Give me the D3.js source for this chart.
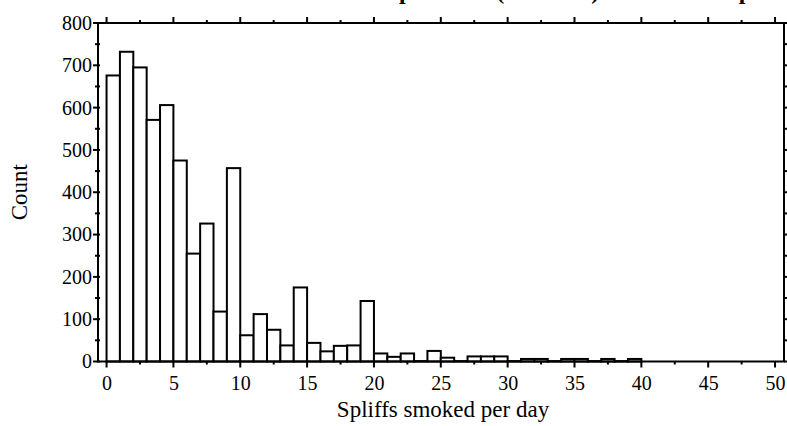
<!DOCTYPE html>
<html>
<head>
<meta charset="utf-8">
<script src="https://cdn.jsdelivr.net/npm/d3@7"></script>
<style>
  html, body { margin: 0; padding: 0; background: #fff; }
  svg { display: block; }
  text { font-family: "Liberation Serif", "Times New Roman", serif; fill: #000; }
</style>
</head>
<body>
<svg id="chart" width="787" height="426"></svg>
<script>
// ---- data ----
const binStarts = [0,1,2,3,4,5,6,7,8,9,10,11,12,13,14,15,16,17,18,19,20,21,22,23,24,25,26,27,28,29,30,31,32,33,34,35,36,37,38,39];
const counts    = [676,732,695,571,606,475,255,326,118,457,62,112,75,38,175,44,24,37,38,143,19,11,19,1,25,9,1,12,12,12,1,6,6,1,6,6,1,6,1,6];
const binWidth = 1;
const xTickValues = [0,5,10,15,20,25,30,35,40,45,50];
const yTickValues = [0,100,200,300,400,500,600,700,800];
const titleText = "Spliffs use (n = 5000) in whole sample";
const xLabel = "Spliffs smoked per day";
const yLabel = "Count";

// ---- layout ----
const svg = d3.select("#chart");
const mLeft = 98, mRight = 784, mTop = 23, mBottom = 361.5;
const x = d3.scaleLinear().domain([-0.64, 50.67]).range([mLeft, mRight]);
const y = d3.scaleLinear().domain([0, 800]).range([mBottom, mTop]);

const xMinor = d3.range(0, 50.01, 2.5);
const yMinor = d3.range(0, 800.1, 50);

// bars
svg.append("g").selectAll("rect")
  .data(binStarts.map((b, i) => ({b, c: counts[i]})))
  .join("rect")
  .attr("x", d => x(d.b))
  .attr("width", d => x(d.b + binWidth) - x(d.b))
  .attr("y", d => y(d.c))
  .attr("height", d => y(0) - y(d.c))
  .attr("fill", "#fff")
  .attr("stroke", "#000")
  .attr("stroke-width", 2);

// frame
svg.append("rect")
  .attr("x", mLeft).attr("y", mTop)
  .attr("width", mRight - mLeft).attr("height", mBottom - mTop)
  .attr("fill", "none").attr("stroke", "#000").attr("stroke-width", 2);

const ticks = svg.append("g").attr("stroke", "#000").attr("stroke-width", 2);
xMinor.forEach(v => {
  const major = v % 5 === 0;
  ticks.append("line").attr("x1", x(v)).attr("x2", x(v))
    .attr("y1", mBottom).attr("y2", mBottom + (major ? 6 : 3));
  ticks.append("line").attr("x1", x(v)).attr("x2", x(v))
    .attr("y1", mTop).attr("y2", mTop - (major ? 6 : 3));
});
yMinor.forEach(v => {
  const major = v % 100 === 0;
  ticks.append("line").attr("x1", mLeft - (major ? 5 : 3)).attr("x2", mLeft + 2)
    .attr("y1", y(v)).attr("y2", y(v));
  ticks.append("line").attr("x1", mRight).attr("x2", mRight + (major ? 5 : 3))
    .attr("y1", y(v)).attr("y2", y(v));
});

// tick labels via axes (no lines)
const xAxis = svg.append("g").attr("transform", `translate(0,${mBottom})`)
  .call(d3.axisBottom(x).tickValues(xTickValues).tickSize(0).tickPadding(14));
const yAxis = svg.append("g").attr("transform", `translate(${mLeft},0)`)
  .call(d3.axisLeft(y).tickValues(yTickValues).tickSize(0).tickPadding(6));
[xAxis, yAxis].forEach(a => {
  a.select(".domain").remove();
  a.selectAll("text").style("font-family", '"Liberation Serif", serif').style("font-size", "20px");
});

// axis titles
svg.append("text")
  .attr("x", 443).attr("y", 417)
  .attr("text-anchor", "middle")
  .style("font-size", "23px")
  .text(xLabel);
svg.append("text")
  .attr("transform", `translate(27,${(mTop + mBottom) / 2}) rotate(-90)`)
  .attr("text-anchor", "middle")
  .style("font-size", "23px")
  .text(yLabel);

// title (top clipped as in reference)
const t = svg.append("text")
  .attr("y", -1.5)
  .style("font-size", "24px")
  .style("font-weight", "bold")
  .text(titleText);
const pre = t.node().getSubStringLength(0, 1);
t.attr("x", 399 - pre);
</script>
</body>
</html>
